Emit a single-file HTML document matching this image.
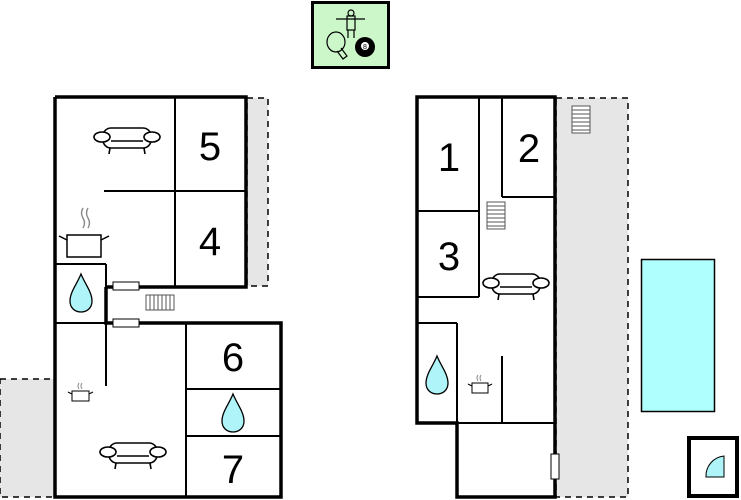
<!DOCTYPE html>
<html><head><style>body{margin:0;background:#fff}svg{display:block}text{font-family:"Liberation Sans",sans-serif}</style></head><body>
<svg width="741" height="500" viewBox="0 0 741 500" xmlns="http://www.w3.org/2000/svg">
<defs>
<g id="sofa" fill="#fff" stroke="#000" stroke-width="1.6">
<rect x="-24" y="-9" width="48" height="20" rx="8"/>
<ellipse cx="-25" cy="0" rx="8" ry="5"/><ellipse cx="25" cy="0" rx="8" ry="5"/>
<line x1="-16" y1="4" x2="16" y2="4"/>
<line x1="-17" y1="11" x2="-18" y2="17"/><line x1="17" y1="11" x2="18" y2="17"/>
</g>
<g id="drop"><path d="M0,-20 C4,-10 11,-2 11,7 C11,14 6,18 0,18 C-6,18 -11,14 -11,7 C-11,-2 -4,-10 0,-20Z" fill="#aef4f8" stroke="#000" stroke-width="1.3"/></g>
<g id="stairV" fill="#fff" stroke="#555" stroke-width="1"><rect x="0" y="0" width="18" height="27"/><line x1="0" y1="4" x2="18" y2="4"/><line x1="0" y1="8" x2="18" y2="8"/><line x1="0" y1="12" x2="18" y2="12"/><line x1="0" y1="16" x2="18" y2="16"/><line x1="0" y1="20" x2="18" y2="20"/><line x1="0" y1="24" x2="18" y2="24"/></g>
</defs>
<!-- top icon -->
<rect x="312.5" y="2.5" width="76" height="65" fill="#ccf7c8" stroke="#000" stroke-width="3"/>
<g stroke="#000" stroke-width="1.2" fill="none"><line x1="336" y1="19" x2="365" y2="19"/><circle cx="351" cy="13" r="3"/><rect x="347" y="16" width="8" height="14"/><line x1="348" y1="30" x2="348" y2="38"/><line x1="354" y1="30" x2="354" y2="38"/>
<ellipse cx="336" cy="42" rx="9" ry="10"/><path d="M341,48 L347,56 L343,59 L337,51"/></g>
<circle cx="365" cy="47" r="10" fill="#000"/><circle cx="365" cy="46" r="4" fill="#fff"/><text x="365" y="49" font-size="7" text-anchor="middle">8</text>
<!-- left gray areas -->
<rect x="247" y="98" width="21" height="188" fill="#e6e6e6" stroke="#000" stroke-width="1.5" stroke-dasharray="6,5"/>
<rect x="0" y="379" width="55" height="118" fill="#e6e6e6" stroke="#000" stroke-width="1.5" stroke-dasharray="6,5"/>
<rect x="556" y="98" width="72" height="399" fill="#e6e6e6" stroke="#000" stroke-width="1.5" stroke-dasharray="6,5"/>
<!-- left building -->
<g stroke="#000" fill="none">
<path d="M55,97 H246 V287 H106 M55,97 V497 H281 V323 H106 V287" stroke-width="3.5"/>
<g stroke-width="2"><line x1="175" y1="97" x2="175" y2="287"/><line x1="104" y1="191" x2="246" y2="191"/><line x1="55" y1="264" x2="106" y2="264"/><line x1="106" y1="264" x2="106" y2="386"/><line x1="55" y1="323" x2="106" y2="323"/><line x1="186" y1="323" x2="186" y2="497"/><line x1="186" y1="389" x2="281" y2="389"/><line x1="186" y1="436" x2="281" y2="436"/></g>
</g>
<rect x="113" y="282" width="26" height="8" fill="#fff" stroke="#000"/><rect x="113" y="319" width="26" height="8" fill="#fff" stroke="#000"/>
<g fill="#fff" stroke="#555"><rect x="146" y="295" width="28" height="15"/><path d="M150,295V310M154,295V310M158,295V310M162,295V310M166,295V310M170,295V310"/></g>
<use href="#sofa" x="127" y="137"/><use href="#sofa" x="133" y="452"/>
<use href="#drop" x="81" y="294"/><use href="#drop" x="233" y="414"/>
<!-- pots -->
<g stroke="#000" stroke-width="1.5" fill="#fff"><rect x="67" y="235" width="34" height="22"/><path d="M67,240 L59,236 M101,240 L109,236" /></g>
<path d="M83,208 q-3,5 0,10 q3,5 0,10 M88,208 q-3,5 0,10 q3,5 0,10" stroke="#888" fill="none" stroke-width="1.4"/>
<g stroke="#000" fill="#fff"><rect x="72" y="391" width="17" height="10"/><path d="M72,394 L68,392 M89,394 L93,392"/></g>
<path d="M79,383 q-2,3 0,6 M82,383 q-2,3 0,6" stroke="#888" fill="none"/>
<g font-size="40" text-anchor="middle"><text x="210" y="160">5</text><text x="210" y="255">4</text><text x="233" y="371">6</text><text x="233" y="483">7</text></g>
<!-- right building -->
<g stroke="#000" fill="none">
<path d="M417,97 H555 V497 H457 V423 H417 Z" stroke-width="3.5"/>
<g stroke-width="2"><line x1="417" y1="211" x2="479" y2="211"/><line x1="479" y1="97" x2="479" y2="297"/><line x1="417" y1="297" x2="479" y2="297"/><line x1="502" y1="97" x2="502" y2="197"/><line x1="502" y1="197" x2="555" y2="197"/><line x1="417" y1="323" x2="457" y2="323"/><line x1="457" y1="323" x2="457" y2="423"/><line x1="502" y1="356" x2="502" y2="423"/><line x1="457" y1="423" x2="555" y2="423"/></g>
</g>
<use href="#stairV" x="487" y="202"/><use href="#stairV" x="572" y="106"/>
<use href="#sofa" x="516" y="283"/>
<use href="#drop" x="437" y="376"/>
<g stroke="#000" fill="#fff"><rect x="472" y="383" width="16" height="10"/><path d="M472,386 L468,384 M488,386 L492,384"/></g>
<path d="M478,375 q-2,3 0,6 M481,375 q-2,3 0,6" stroke="#888" fill="none"/>
<rect x="551" y="454" width="8" height="25" fill="#fff" stroke="#000"/>
<g font-size="40" text-anchor="middle"><text x="449" y="171">1</text><text x="529" y="162">2</text><text x="449" y="270">3</text></g>
<rect x="641.5" y="259.5" width="73" height="152" fill="#afffff" stroke="#000" stroke-width="1.5"/>
<rect x="689" y="438" width="48" height="58" fill="#fff" stroke="#000" stroke-width="4"/>
<path d="M724,477 V456 A20,20 0 0 0 706,477 Z" fill="#aef4f8" stroke="#000"/>
</svg>
</body></html>
